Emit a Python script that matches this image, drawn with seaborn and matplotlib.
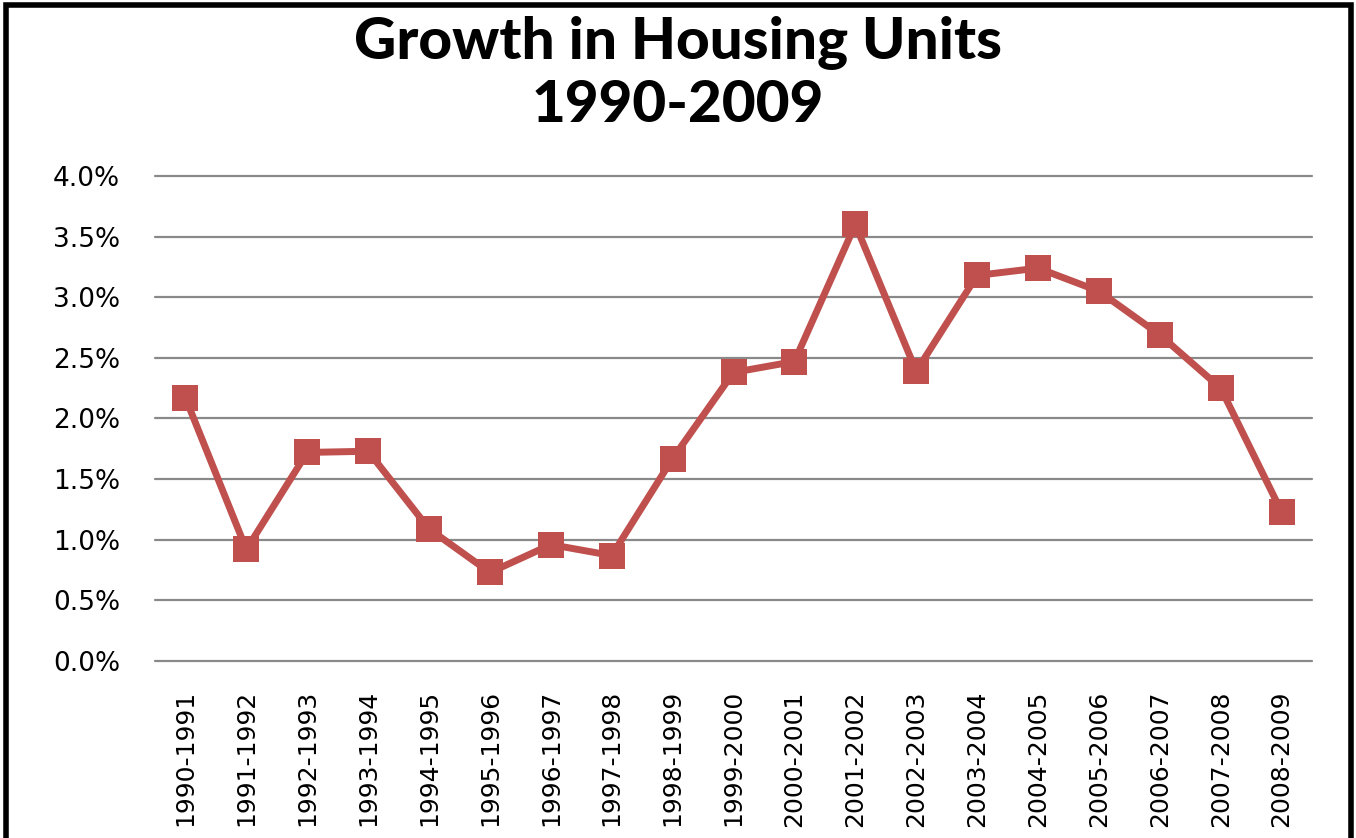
import matplotlib
matplotlib.use("Agg")
import matplotlib.pyplot as plt
import seaborn as sns
import pandas as pd
from matplotlib.ticker import PercentFormatter
from matplotlib.patches import Rectangle

periods = ["1990-1991", "1991-1992", "1992-1993", "1993-1994", "1994-1995",
           "1995-1996", "1996-1997", "1997-1998", "1998-1999", "1999-2000",
           "2000-2001", "2001-2002", "2002-2003", "2003-2004", "2004-2005",
           "2005-2006", "2006-2007", "2007-2008", "2008-2009"]
growth_pct = [2.17, 0.92, 1.72, 1.73, 1.09, 0.73, 0.96, 0.87, 1.67, 2.38,
              2.47, 3.60, 2.39, 3.18, 3.24, 3.05, 2.69, 2.25, 1.23]
y_ticks = [0.0, 0.5, 1.0, 1.5, 2.0, 2.5, 3.0, 3.5, 4.0]
title_text = "Growth in Housing Units\n1990-2009"

sns.set_theme(style="white")
plt.rcParams['font.family'] = ['DejaVu Sans']

df = pd.DataFrame({"period": periods, "growth": growth_pct})

fig = plt.figure(figsize=(13.56, 8.38), dpi=100)
ax = fig.add_axes([0.1143, 0.2112, 0.9676 - 0.1143, 0.79 - 0.2112])

sns.lineplot(data=df, x="period", y="growth", ax=ax, color="#C0504D",
             linewidth=5, marker="s", markersize=19, markeredgewidth=0,
             sort=False)

ax.set_xlim(-0.5, len(periods) - 0.5)
ax.set_ylim(0, 4.0)
ax.set_yticks(y_ticks)
ax.yaxis.set_major_formatter(PercentFormatter(decimals=1))
ax.grid(axis="y", color="#898989", linewidth=1.6)
ax.grid(axis="x", visible=False)
ax.set_axisbelow(True)
for gl in ax.get_ygridlines():
    gl.set_clip_on(False)
for s in ax.spines.values():
    s.set_visible(False)
ax.set_xlabel("")
ax.set_ylabel("")
ax.tick_params(axis="both", length=0)
ax.tick_params(axis="y", labelsize=19, pad=25, colors="black")
ax.tick_params(axis="x", labelsize=18, pad=21, colors="black", labelrotation=90)

fig.text(0.5, 1 - 74 / 838, title_text, ha="center", va="center",
         fontsize=42, fontweight="black", linespacing=1.23, color="black",
         family=["Lato", "DejaVu Sans"])

fig.patches.append(Rectangle((5.5 / 1356, -0.05), (1350.5 - 5.5) / 1356,
                             1.05 - 5.5 / 838, transform=fig.transFigure,
                             fill=False, edgecolor="black", linewidth=4,
                             figure=fig))

fig.savefig("out.png", dpi=100)
